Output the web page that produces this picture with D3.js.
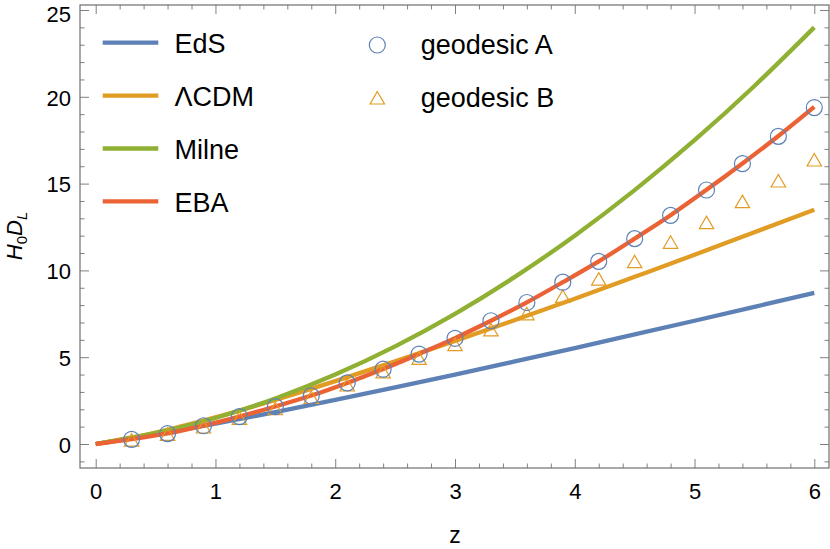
<!DOCTYPE html>
<html>
<head>
<meta charset="utf-8">
<script src="https://cdn.jsdelivr.net/npm/d3@7"></script>
<style>
  html, body { margin: 0; padding: 0; background: #fff; }
  svg { display: block; font-family: "Liberation Sans", Arial, sans-serif; }
</style>
</head>
<body>
<svg id="chart" width="830" height="549"></svg>
<script>
// ---- data ----
const zLine = [0, 0.5, 1, 1.5, 2, 2.5, 3, 3.5, 4, 4.5, 5, 5.5, 6];
const edsValues = [0, 0.551, 1.172, 1.838, 2.536, 3.258, 4.0, 4.757, 5.528, 6.31, 7.101, 7.901, 8.708];
const lcdmValues = [0, 0.66, 1.54, 2.54, 3.62, 4.76, 5.93, 7.14, 8.37, 9.63, 10.9, 12.2, 13.5];
const milneValues = [0, 0.625, 1.5, 2.625, 4, 5.625, 7.5, 9.625, 12, 14.625, 17.5, 20.625, 24];

const zEba = [0, 0.3, 0.6, 0.9, 1.2, 1.5, 1.8, 2.1, 2.4, 2.7, 3.0, 3.3, 3.6, 3.9, 4.2, 4.5, 4.8, 5.1, 5.4, 5.7, 6.0];
const ebaValues = [0, 0.28, 0.61, 1.06, 1.58, 2.16, 2.79, 3.52, 4.32, 5.19, 6.1, 7.1, 8.16, 9.32, 10.52, 11.83, 13.18, 14.64, 16.16, 17.74, 19.42];

const zGeo = [0.3, 0.6, 0.9, 1.2, 1.5, 1.8, 2.1, 2.4, 2.7, 3.0, 3.3, 3.6, 3.9, 4.2, 4.5, 4.8, 5.1, 5.4, 5.7, 6.0];
const geodesicA = [0.27, 0.6, 1.05, 1.58, 2.15, 2.77, 3.52, 4.31, 5.18, 6.09, 7.1, 8.15, 9.32, 10.52, 11.83, 13.17, 14.63, 16.15, 17.72, 19.38];
const geodesicB = [0.22, 0.55, 0.98, 1.48, 2.03, 2.68, 3.4, 4.15, 4.93, 5.72, 6.57, 7.5, 8.5, 9.5, 10.5, 11.62, 12.75, 13.96, 15.15, 16.36];

const xMajorTicks = [0, 1, 2, 3, 4, 5, 6];
const yMajorTicks = [0, 5, 10, 15, 20, 25];

const lineSeries = [
  { name: "EdS", x: zLine, y: edsValues, color: "#5E81B5" },
  { name: "\u039BCDM", x: zLine, y: lcdmValues, color: "#E19C24" },
  { name: "Milne", x: zLine, y: milneValues, color: "#8FB032" },
  { name: "EBA", x: zEba, y: ebaValues, color: "#EB6235" }
];

// ---- layout ----
const svg = d3.select("#chart");
const L = 80, R = 829, T = 5, B = 468;
const x = d3.scaleLinear().domain([0, 6]).range([95.7, 814.3]);
const y = d3.scaleLinear().domain([0, 25]).range([444, 10]);
const xDom = x.invert(L), xDom2 = x.invert(R);
const yDom = y.invert(B), yDom2 = y.invert(T);

const xMinor = d3.range(0, 6.01, 0.2).map(v => +v.toFixed(2)).filter(v => v >= xDom && v <= xDom2 && !xMajorTicks.includes(v));
const yMinor = d3.range(-1, 25.01, 1).filter(v => v >= yDom && v <= yDom2 && !yMajorTicks.includes(v));

const tickColor = "#808080";
function styleAxis(g, fontSize) {
  g.select(".domain").remove();
  g.selectAll(".tick line").attr("stroke", tickColor).attr("stroke-width", 1);
  g.selectAll(".tick text").attr("fill", "#000").style("font-size", fontSize + "px")
    .style("font-family", '"Liberation Sans", Arial, sans-serif');
}

// bottom axis
const gB = svg.append("g").attr("transform", `translate(0,${B})`)
  .call(d3.axisBottom(x).tickValues(xMajorTicks).tickSize(-9).tickPadding(15.5).tickFormat(d3.format("d")));
styleAxis(gB, 22);
const gBm = svg.append("g").attr("transform", `translate(0,${B})`)
  .call(d3.axisBottom(x).tickValues(xMinor).tickSize(-4.5).tickFormat(""));
styleAxis(gBm, 22);
// top axis
const gT = svg.append("g").attr("transform", `translate(0,${T})`)
  .call(d3.axisTop(x).tickValues(xMajorTicks).tickSize(-9).tickFormat(""));
styleAxis(gT, 22);
const gTm = svg.append("g").attr("transform", `translate(0,${T})`)
  .call(d3.axisTop(x).tickValues(xMinor).tickSize(-4.5).tickFormat(""));
styleAxis(gTm, 22);
// left axis
const gL = svg.append("g").attr("transform", `translate(${L},0)`)
  .call(d3.axisLeft(y).tickValues(yMajorTicks).tickSize(-9).tickPadding(9).tickFormat(d3.format("d")));
styleAxis(gL, 22);
gL.selectAll(".tick text").attr("dy", d => d === 25 ? "0.5em" : "0.38em");
const gLm = svg.append("g").attr("transform", `translate(${L},0)`)
  .call(d3.axisLeft(y).tickValues(yMinor).tickSize(-4.5).tickFormat(""));
styleAxis(gLm, 22);
// right axis
const gR = svg.append("g").attr("transform", `translate(${R},0)`)
  .call(d3.axisRight(y).tickValues(yMajorTicks).tickSize(-9).tickFormat(""));
styleAxis(gR, 22);
const gRm = svg.append("g").attr("transform", `translate(${R},0)`)
  .call(d3.axisRight(y).tickValues(yMinor).tickSize(-4.5).tickFormat(""));
styleAxis(gRm, 22);

// frame
svg.append("rect").attr("x", L).attr("y", T).attr("width", R - L).attr("height", B - T)
  .attr("fill", "none").attr("stroke", "#6e6e6e").attr("stroke-width", 1.2);

// axis labels
svg.append("text").attr("x", x(3)).attr("y", 543).attr("text-anchor", "middle")
  .style("font-size", "23px").text("z");

const yl = svg.append("text").attr("transform", "translate(22,236) rotate(-90)")
  .attr("text-anchor", "middle").style("font-size", "22px");
yl.append("tspan").style("font-style", "italic").text("H");
yl.append("tspan").attr("dy", 5).style("font-size", "15px").text("0");
yl.append("tspan").attr("dy", -5).style("font-style", "italic").text("D");
yl.append("tspan").attr("dy", 5).style("font-size", "15px").style("font-style", "italic").text("L");

// lines
const lineGen = d3.line().x(d => x(d[0])).y(d => y(d[1])).curve(d3.curveMonotoneX);
lineSeries.forEach(s => {
  svg.append("path")
    .datum(s.x.map((v, i) => [v, s.y[i]]))
    .attr("d", lineGen)
    .attr("fill", "none")
    .attr("stroke", s.color)
    .attr("stroke-width", 4.3)
    .attr("stroke-linejoin", "round");
});

// markers
const triPath = "M0,-6.5L7.2,6L-7.2,6Z";
svg.append("g").selectAll("path").data(zGeo.map((v, i) => [v, geodesicB[i]])).join("path")
  .attr("d", triPath)
  .attr("transform", d => `translate(${x(d[0])},${y(d[1])})`)
  .attr("fill", "none").attr("stroke", "#E19C24").attr("stroke-width", 1.2);
svg.append("g").selectAll("circle").data(zGeo.map((v, i) => [v, geodesicA[i]])).join("circle")
  .attr("cx", d => x(d[0])).attr("cy", d => y(d[1])).attr("r", 8)
  .attr("fill", "none").attr("stroke", "#5E81B5").attr("stroke-width", 1.2);

// legend
const legY0 = 42.7, legDy = 52.9;
lineSeries.forEach((s, i) => {
  const yy = legY0 + i * legDy;
  svg.append("line").attr("x1", 102.7).attr("x2", 158.3).attr("y1", yy).attr("y2", yy)
    .attr("stroke", s.color).attr("stroke-width", 4.3);
  svg.append("text").attr("x", 174.5).attr("y", yy + 10.3).style("font-size", "27px").text(s.name);
});
svg.append("circle").attr("cx", 377.3).attr("cy", 45).attr("r", 8)
  .attr("fill", "none").attr("stroke", "#5E81B5").attr("stroke-width", 1.2);
svg.append("text").attr("x", 420.7).attr("y", 45 + 8.5).style("font-size", "27px").text("geodesic A");
svg.append("path").attr("d", triPath).attr("transform", "translate(377.3,98)")
  .attr("fill", "none").attr("stroke", "#E19C24").attr("stroke-width", 1.2);
svg.append("text").attr("x", 420.7).attr("y", 98 + 8.5).style("font-size", "27px").text("geodesic B");
</script>
</body>
</html>
